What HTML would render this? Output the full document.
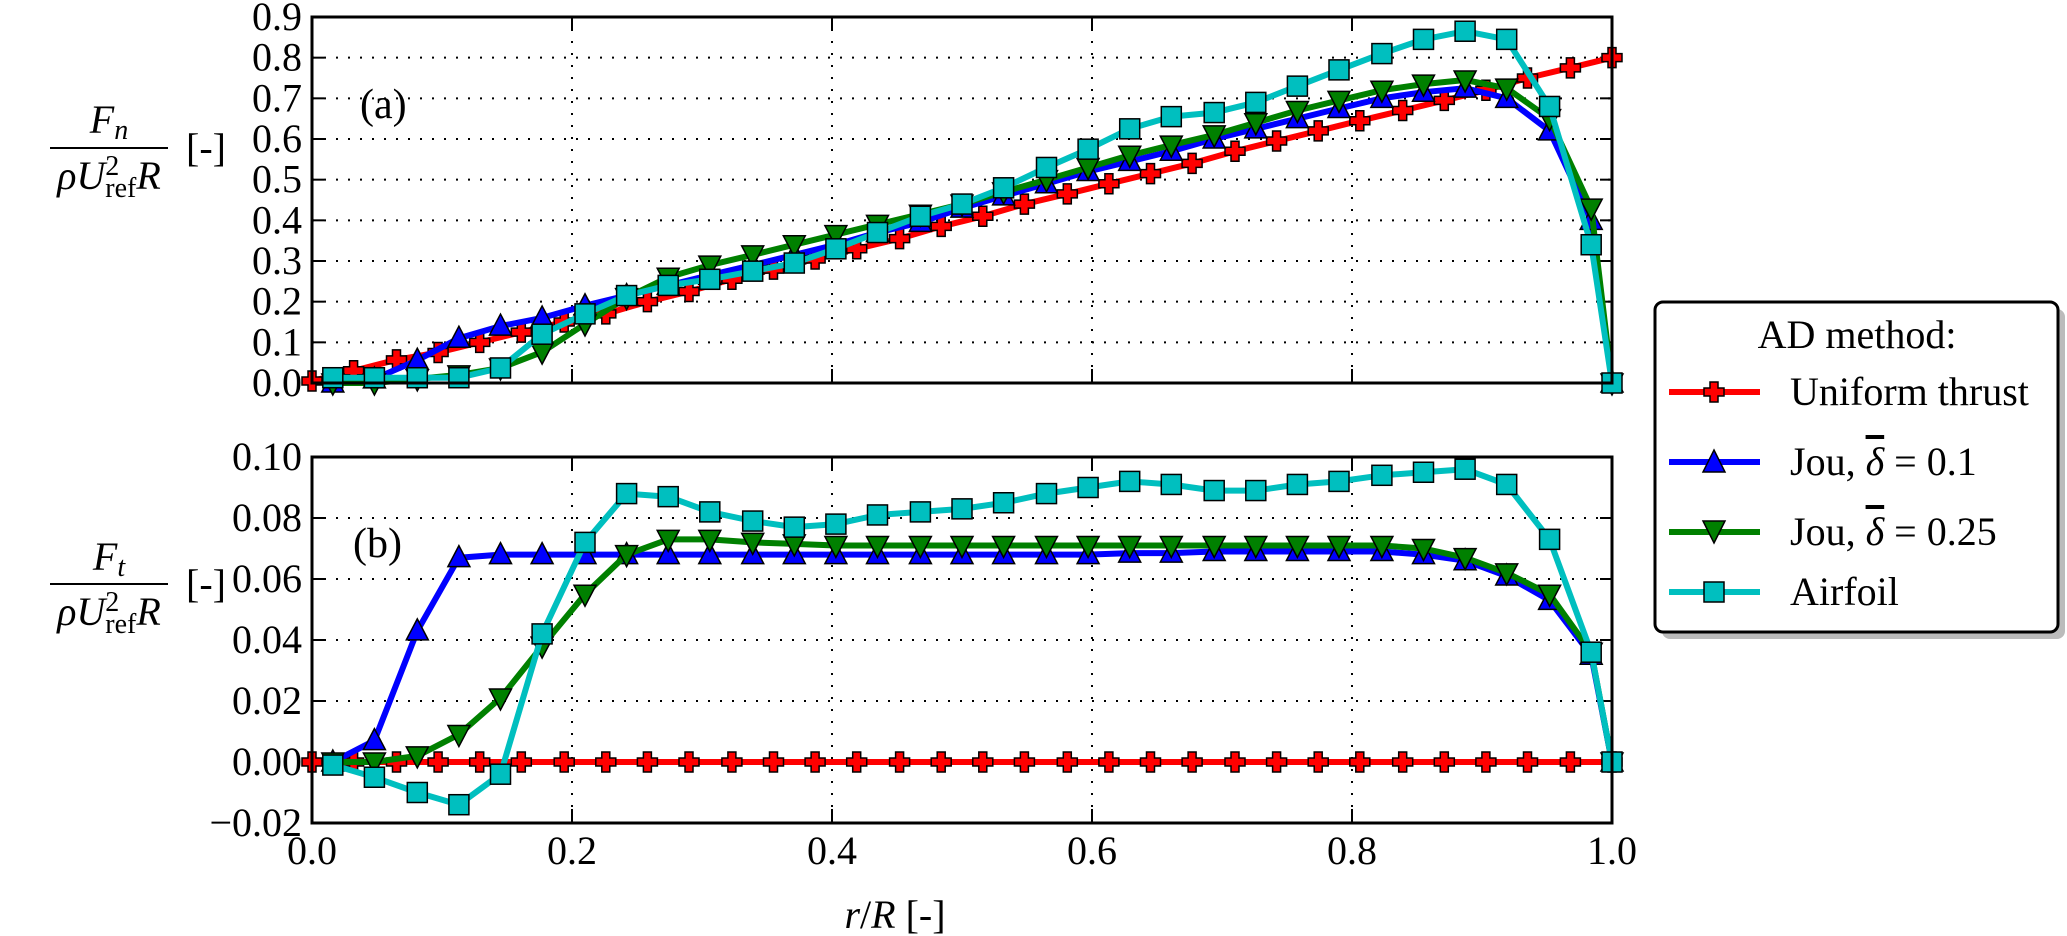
<!DOCTYPE html>
<html><head><meta charset="utf-8">
<style>
html,body{margin:0;padding:0;background:#fff;}
body{width:2067px;height:936px;overflow:hidden;position:relative;font-family:"Liberation Serif",serif;}
svg{position:absolute;left:0;top:0;}
svg text{font-family:"Liberation Serif","DejaVu Serif",serif;}
</style></head>
<body>
<svg id="chart" width="2067" height="936" xmlns="http://www.w3.org/2000/svg"></svg>
<script>
const rU = [0,0.032,0.065,0.097,0.129,0.161,0.194,0.226,0.258,0.29,0.323,0.355,0.387,0.419,0.452,0.484,0.516,0.548,0.581,0.613,0.645,0.677,0.71,0.742,0.774,0.806,0.839,0.871,0.903,0.935,0.968,1.0];
const rJ = [0.016,0.048,0.081,0.113,0.145,0.177,0.21,0.242,0.274,0.306,0.339,0.371,0.403,0.435,0.468,0.5,0.532,0.565,0.597,0.629,0.661,0.694,0.726,0.758,0.79,0.823,0.855,0.887,0.919,0.952,0.984,1.0];
const fnUniform = [0.005,0.03,0.057,0.075,0.10,0.125,0.15,0.17,0.2,0.225,0.255,0.28,0.305,0.33,0.355,0.385,0.41,0.44,0.465,0.49,0.515,0.54,0.57,0.595,0.62,0.645,0.67,0.695,0.72,0.75,0.775,0.80];
const fnJou01 = [0.0,0.01,0.056,0.11,0.14,0.16,0.19,0.215,0.24,0.265,0.29,0.315,0.34,0.37,0.395,0.43,0.46,0.49,0.52,0.545,0.57,0.60,0.625,0.65,0.675,0.70,0.715,0.725,0.70,0.62,0.40,0.0];
const fnJou025 = [0.0,0.0,0.01,0.02,0.037,0.076,0.145,0.21,0.26,0.29,0.315,0.34,0.365,0.39,0.415,0.44,0.47,0.50,0.53,0.56,0.585,0.61,0.64,0.67,0.695,0.72,0.735,0.745,0.725,0.65,0.43,0.0];
const fnAirfoil = [0.013,0.013,0.013,0.013,0.037,0.12,0.17,0.215,0.24,0.255,0.275,0.295,0.33,0.37,0.41,0.44,0.48,0.53,0.575,0.625,0.655,0.665,0.69,0.73,0.77,0.81,0.845,0.865,0.845,0.68,0.34,0.0];
const ftUniform = [0,0,0,0,0,0,0,0,0,0,0,0,0,0,0,0,0,0,0,0,0,0,0,0,0,0,0,0,0,0,0,0];
const ftJou01 = [0.0,0.007,0.043,0.067,0.068,0.068,0.068,0.068,0.068,0.068,0.068,0.068,0.068,0.068,0.068,0.068,0.068,0.068,0.068,0.0685,0.0685,0.069,0.069,0.069,0.069,0.069,0.068,0.066,0.061,0.053,0.035,0.0];
const ftJou025 = [0.0,0.0,0.002,0.009,0.021,0.038,0.055,0.068,0.073,0.073,0.072,0.0715,0.071,0.071,0.071,0.071,0.071,0.071,0.071,0.071,0.071,0.071,0.071,0.071,0.071,0.071,0.070,0.067,0.062,0.055,0.036,0.0];
const ftAirfoil = [-0.001,-0.005,-0.010,-0.014,-0.004,0.042,0.072,0.088,0.087,0.082,0.079,0.077,0.078,0.081,0.082,0.083,0.085,0.088,0.090,0.092,0.091,0.089,0.089,0.091,0.092,0.094,0.095,0.096,0.091,0.073,0.036,0.0];
const xTicks = [0.0,0.2,0.4,0.6,0.8,1.0];
const xTickLabels = ["0.0","0.2","0.4","0.6","0.8","1.0"];
const yTicksA = [0,0.1,0.2,0.3,0.4,0.5,0.6,0.7,0.8,0.9];
const yTickLabelsA = ["0.0","0.1","0.2","0.3","0.4","0.5","0.6","0.7","0.8","0.9"];
const yTicksB = [-0.02,0,0.02,0.04,0.06,0.08,0.10];
const yTickLabelsB = ["\u22120.02","0.00","0.02","0.04","0.06","0.08","0.10"];

const NS="http://www.w3.org/2000/svg";
const svg=document.getElementById('chart');
function mk(tag,attrs,parent){const e=document.createElementNS(NS,tag);for(const k in attrs)e.setAttribute(k,attrs[k]);(parent||svg).appendChild(e);return e;}
const X0=312,X1=1612;
const sx=v=>X0+(X1-X0)*v;
function mkY(lo,hi,top,bot){return v=>bot-(v-lo)/(hi-lo)*(bot-top);}
const syA=mkY(0,0.9,17,383);
const syB=mkY(-0.02,0.10,457,823);

function marker(type,x,y,color,g){
  let e;
  if(type==='plus'){
    const a=4,b=10;
    e=mk('path',{d:`M${x-a},${y-b}h${2*a}v${b-a}h${b-a}v${2*a}h${a-b}v${b-a}h${-2*a}v${a-b}h${a-b}v${-2*a}h${b-a}z`,fill:color,stroke:'#000','stroke-width':1.5},g);
  } else if(type==='up'){
    e=mk('path',{d:`M${x},${y-12}L${x+11},${y+9}L${x-11},${y+9}Z`,fill:color,stroke:'#000','stroke-width':1.5},g);
  } else if(type==='down'){
    e=mk('path',{d:`M${x},${y+12}L${x+11},${y-9}L${x-11},${y-9}Z`,fill:color,stroke:'#000','stroke-width':1.5},g);
  } else {
    e=mk('rect',{x:x-10,y:y-10,width:20,height:20,fill:color,stroke:'#000','stroke-width':1.5},g);
  }
  
  
}

function panel(name,sy,top,bot,yt,ytl,series){
  const g=mk('g',{});
  
  
  yt.forEach((v,i)=>{
    const y=sy(v);
    if(i>0&&i<yt.length-1){const l=mk('line',{x1:X0,x2:X1,y1:y,y2:y,stroke:'#000','stroke-width':2,'stroke-dasharray':'2,10'},g);}
    mk('line',{x1:X0,x2:X0+12,y1:y,y2:y,stroke:'#000','stroke-width':2},g);
    mk('line',{x1:X1,x2:X1-12,y1:y,y2:y,stroke:'#000','stroke-width':2},g);
    const t=mk('text',{x:X0-10,y:y+13,'text-anchor':'end','font-size':40},g);t.textContent=ytl[i];
    
  });
  xTicks.forEach((v,i)=>{
    const x=sx(v);
    if(i>0&&i<xTicks.length-1){const l=mk('line',{x1:x,x2:x,y1:top,y2:bot,stroke:'#000','stroke-width':2,'stroke-dasharray':'2,10'},g);}
    mk('line',{x1:x,x2:x,y1:top,y2:top+14,stroke:'#000','stroke-width':2},g);
    mk('line',{x1:x,x2:x,y1:bot,y2:bot-14,stroke:'#000','stroke-width':2},g);
  });
  series.forEach(s=>{
    const sg=mk('g',{},g);
    
    
    const pts=s.xs.map((x,i)=>sx(x).toFixed(1)+','+sy(s.ys[i]).toFixed(1)).join(' ');
    mk('polyline',{points:pts,fill:'none',stroke:s.color,'stroke-width':6,'stroke-linejoin':'round'},sg);
    s.xs.forEach((x,i)=>marker(s.m,sx(x),sy(s.ys[i]),s.color,sg));
  });
  const r=mk('rect',{x:X0,y:top,width:X1-X0,height:bot-top,fill:'none',stroke:'#000','stroke-width':3},g);
  
}
panel('panel-a-normal-force',syA,17,383,yTicksA,yTickLabelsA,[
  {name:'series-uniform-thrust',xs:rU,ys:fnUniform,color:'#ff0000',m:'plus'},
  {name:'series-jou-0.1',xs:rJ,ys:fnJou01,color:'#0000ff',m:'up'},
  {name:'series-jou-0.25',xs:rJ,ys:fnJou025,color:'#008000',m:'down'},
  {name:'series-airfoil',xs:rJ,ys:fnAirfoil,color:'#00bfbf',m:'sq'}]);
panel('panel-b-tangential-force',syB,457,823,yTicksB,yTickLabelsB,[
  {name:'series-uniform-thrust',xs:rU,ys:ftUniform,color:'#ff0000',m:'plus'},
  {name:'series-jou-0.1',xs:rJ,ys:ftJou01,color:'#0000ff',m:'up'},
  {name:'series-jou-0.25',xs:rJ,ys:ftJou025,color:'#008000',m:'down'},
  {name:'series-airfoil',xs:rJ,ys:ftAirfoil,color:'#00bfbf',m:'sq'}]);
xTicks.forEach((v,i)=>{
  const t=mk('text',{x:sx(v),y:864,'text-anchor':'middle','font-size':40});
  t.textContent=xTickLabels[i];
  
  
});
</script>
<svg width="2067" height="936" style="pointer-events:none">
  <text x="360" y="118" font-size="42">(a)</text>
  <text x="353" y="557" font-size="42">(b)</text>
  <text x="895" y="928" font-size="40" text-anchor="middle"><tspan font-style="italic">r</tspan>/<tspan font-style="italic">R</tspan> [-]</text>
  <g font-size="40">
    <text x="109" y="133" text-anchor="middle" font-style="italic">F<tspan font-size="28" dy="6">n</tspan></text>
    <line x1="50" x2="168" y1="148" y2="148" stroke="#000" stroke-width="2"/>
    <text x="109" y="189" text-anchor="middle"><tspan font-style="italic">ρU</tspan><tspan font-size="28" dy="-14">2</tspan><tspan font-size="28" dx="-14" dy="22">ref</tspan><tspan font-style="italic" dy="-8">R</tspan></text>
    <text x="186" y="161">[-]</text>
  </g>
  <g font-size="40">
    <text x="109" y="570" text-anchor="middle" font-style="italic">F<tspan font-size="28" dy="6">t</tspan></text>
    <line x1="50" x2="168" y1="584" y2="584" stroke="#000" stroke-width="2"/>
    <text x="109" y="625" text-anchor="middle"><tspan font-style="italic">ρU</tspan><tspan font-size="28" dy="-14">2</tspan><tspan font-size="28" dx="-14" dy="22">ref</tspan><tspan font-style="italic" dy="-8">R</tspan></text>
    <text x="186" y="597">[-]</text>
  </g>
  <g>
    <rect x="1662" y="309" width="403" height="330" rx="8" fill="#bbb"/>
    <rect x="1655" y="302" width="403" height="330" rx="8" fill="#fff" stroke="#000" stroke-width="3"/>
    <text x="1857" y="348" font-size="40" text-anchor="middle">AD method:</text>
    <g>
      <line x1="1669" x2="1760" y1="392" y2="392" stroke="#ff0000" stroke-width="6"/>
      <path d="M1710,382h8v6h6v8h-6v6h-8v-6h-6v-8h6z" fill="#ff0000" stroke="#000" stroke-width="1.5"/>
      <text x="1790" y="405" font-size="40">Uniform thrust</text>
    </g>
    <g>
      <line x1="1669" x2="1760" y1="462" y2="462" stroke="#0000ff" stroke-width="6"/>
      <path d="M1714,450L1725,472L1703,472Z" fill="#0000ff" stroke="#000" stroke-width="1.5"/>
      <text x="1790" y="475" font-size="40">Jou, <tspan font-style="italic" text-decoration="overline">δ</tspan> = 0.1</text>
    </g>
    <g>
      <line x1="1669" x2="1760" y1="532" y2="532" stroke="#008000" stroke-width="6"/>
      <path d="M1714,543L1725,521L1703,521Z" fill="#008000" stroke="#000" stroke-width="1.5"/>
      <text x="1790" y="545" font-size="40">Jou, <tspan font-style="italic" text-decoration="overline">δ</tspan> = 0.25</text>
    </g>
    <g>
      <line x1="1669" x2="1760" y1="592" y2="592" stroke="#00bfbf" stroke-width="6"/>
      <rect x="1704" y="582" width="20" height="20" fill="#00bfbf" stroke="#000" stroke-width="1.5"/>
      <text x="1790" y="605" font-size="40">Airfoil</text>
    </g>
  </g>
</svg>
</body></html>
